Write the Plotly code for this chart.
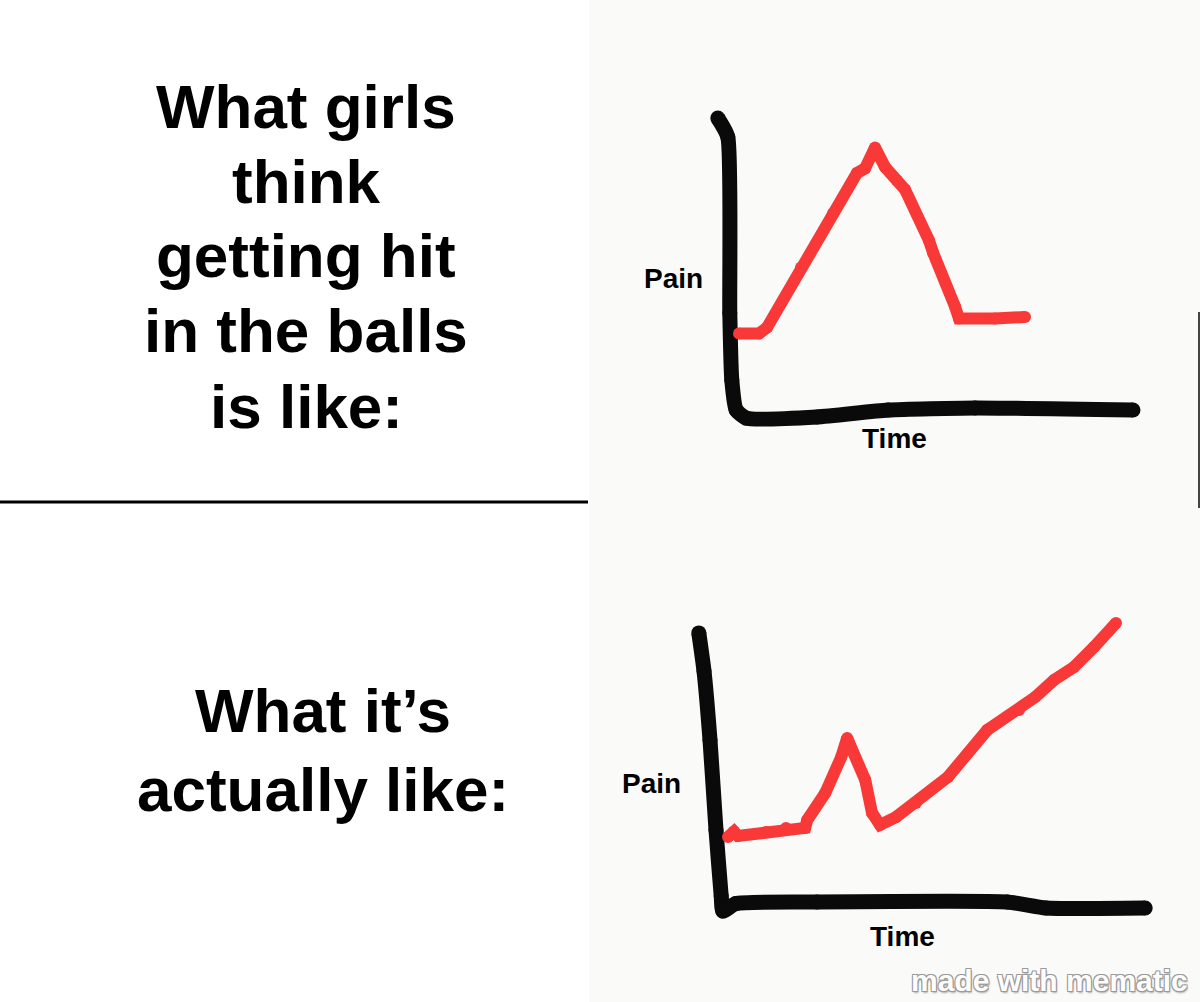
import plotly.graph_objects as go

# ---------------- data (units: time / pain) ----------------
top_time = [0.1, 0.6, 0.8, 1.65, 2.45, 3.05, 3.25, 3.5, 3.75, 4.05, 4.25, 4.85, 4.95, 5.5, 5.6, 6.5, 7.25]
top_pain = [2.55, 2.55, 2.75, 4.75, 6.55, 7.9, 8.05, 8.75, 8.1, 7.65, 7.35, 5.65, 5.25, 3.45, 3.05, 3.05, 3.1]

top_axis_x = [-0.43, -0.18, -0.13, -0.08, 0.03, 0.28, 2.05, 3.83, 6.0, 9.95]
top_axis_y = [9.73, 9.1, 3.23, 1.0, 0.0, -0.27, -0.23, 0.0, 0.07, 0.0]

bot_time = [0.15, 0.3, 0.4, 1.1, 1.6, 2.08, 2.13, 2.58, 2.98, 3.13, 3.18, 3.58, 3.75, 3.95,
            4.35, 4.85, 5.65, 6.63, 7.43, 7.83, 8.3, 8.8, 9.3, 9.85]
bot_pain = [2.27, 2.45, 2.3, 2.43, 2.57, 2.57, 2.83, 3.73, 4.93, 5.57, 5.4, 4.17, 3.07, 2.67,
            2.93, 3.4, 4.27, 5.83, 6.5, 6.93, 7.5, 7.93, 8.6, 9.4]

bot_axis_x = [-0.58, -0.45, -0.3, -0.15, -0.02, 0.02, 0.35, 2.38, 7.13, 8.1, 10.58]
bot_axis_y = [9.07, 7.8, 5.5, 2.5, 0.3, -0.2, 0.05, 0.1, 0.1, -0.1, -0.1]

top_caption = ["What girls", "think", "getting hit", "in the balls", "is like:"]
bottom_caption = ["What it\u2019s", "actually like:"]
y_label = "Pain"
x_label = "Time"
watermark = "made with mematic"

# ---------------- figure ----------------
W, H = 1200, 1002
RED = "#f93838"
BLACK = "#0a0a0a"


def px(x):
    return x / W


def py(y):
    return 1 - y / H


def stroke(x, y, color, width, xa, ya, shape="linear"):
    return go.Scatter(
        x=x, y=y, xaxis=xa, yaxis=ya, mode="lines+markers",
        line=dict(color=color, width=width, shape=shape, smoothing=0.5),
        marker=dict(color=color, size=width, line=dict(width=0)),
        hoverinfo="skip", showlegend=False, cliponaxis=False,
    )


fig = go.Figure()
fig.add_trace(stroke(top_axis_x, top_axis_y, BLACK, 15, "x", "y", "spline"))
fig.add_trace(stroke(top_time, top_pain, RED, 12, "x", "y"))
fig.add_trace(stroke(bot_axis_x, bot_axis_y, BLACK, 15, "x2", "y2", "spline"))
fig.add_trace(stroke(bot_time, bot_pain, RED, 12, "x2", "y2"))

hidden = dict(visible=False, range=[-1, 11], fixedrange=True)
fig.update_layout(
    width=W, height=H,
    margin=dict(l=0, r=0, t=0, b=0, pad=0),
    paper_bgcolor="white", plot_bgcolor="rgba(0,0,0,0)",
    xaxis=dict(domain=[px(695), px(1175)], anchor="y", **hidden),
    yaxis=dict(domain=[py(440), py(80)], anchor="x", **hidden),
    xaxis2=dict(domain=[px(682), px(1162)], anchor="y2", **hidden),
    yaxis2=dict(domain=[py(935), py(575)], anchor="x2", **hidden),
    showlegend=False,
)

# panel backgrounds / divider
fig.add_shape(type="rect", xref="paper", yref="paper", x0=px(589), x1=1, y0=0, y1=1,
              fillcolor="#fafaf9", line=dict(width=0), layer="below")
fig.add_shape(type="line", xref="paper", yref="paper", x0=0, x1=px(588), y0=py(502), y1=py(502),
              line=dict(color="black", width=3))
fig.add_shape(type="line", xref="paper", yref="paper", x0=px(1199), x1=px(1199), y0=py(312), y1=py(508),
              line=dict(color="#444444", width=2))

title_font = dict(family="Liberation Sans, Arial, sans-serif", size=62, color="black", weight="bold")
for i, t in enumerate(top_caption):
    fig.add_annotation(text=t, xref="paper", yref="paper", x=px(306), y=py(106 + 75 * i),
                       xanchor="center", yanchor="middle", showarrow=False, font=title_font)
for i, t in enumerate(bottom_caption):
    fig.add_annotation(text=t, xref="paper", yref="paper", x=px(323), y=py(710 + 79 * i),
                       xanchor="center", yanchor="middle", showarrow=False, font=title_font)

label_font = dict(family="Liberation Sans, Arial, sans-serif", size=28, color="black", weight="bold")
for (lx, ly, txt) in [(673, 278, y_label), (894, 439, x_label), (651, 783, y_label), (902, 936, x_label)]:
    fig.add_annotation(text=txt, xref="paper", yref="paper", x=px(lx), y=py(ly),
                       xanchor="center", yanchor="middle", showarrow=False, font=label_font)

fig.add_annotation(text=watermark, xref="paper", yref="paper", x=px(1049), y=py(980),
                   xanchor="center", yanchor="middle", showarrow=False,
                   font=dict(family="Liberation Sans, Arial, sans-serif", size=30, color="#fdfdfd",
                             weight="bold",
                             shadow="-1px -1px 0px #9a9a9a, 1px -1px 0px #9a9a9a, -1px 1px 0px #9a9a9a, 1px 1px 0px #9a9a9a, 1px 2px 2px #aaaaaa"))

fig.write_html("out.html", config=dict(displayModeBar=False, staticPlot=True))
